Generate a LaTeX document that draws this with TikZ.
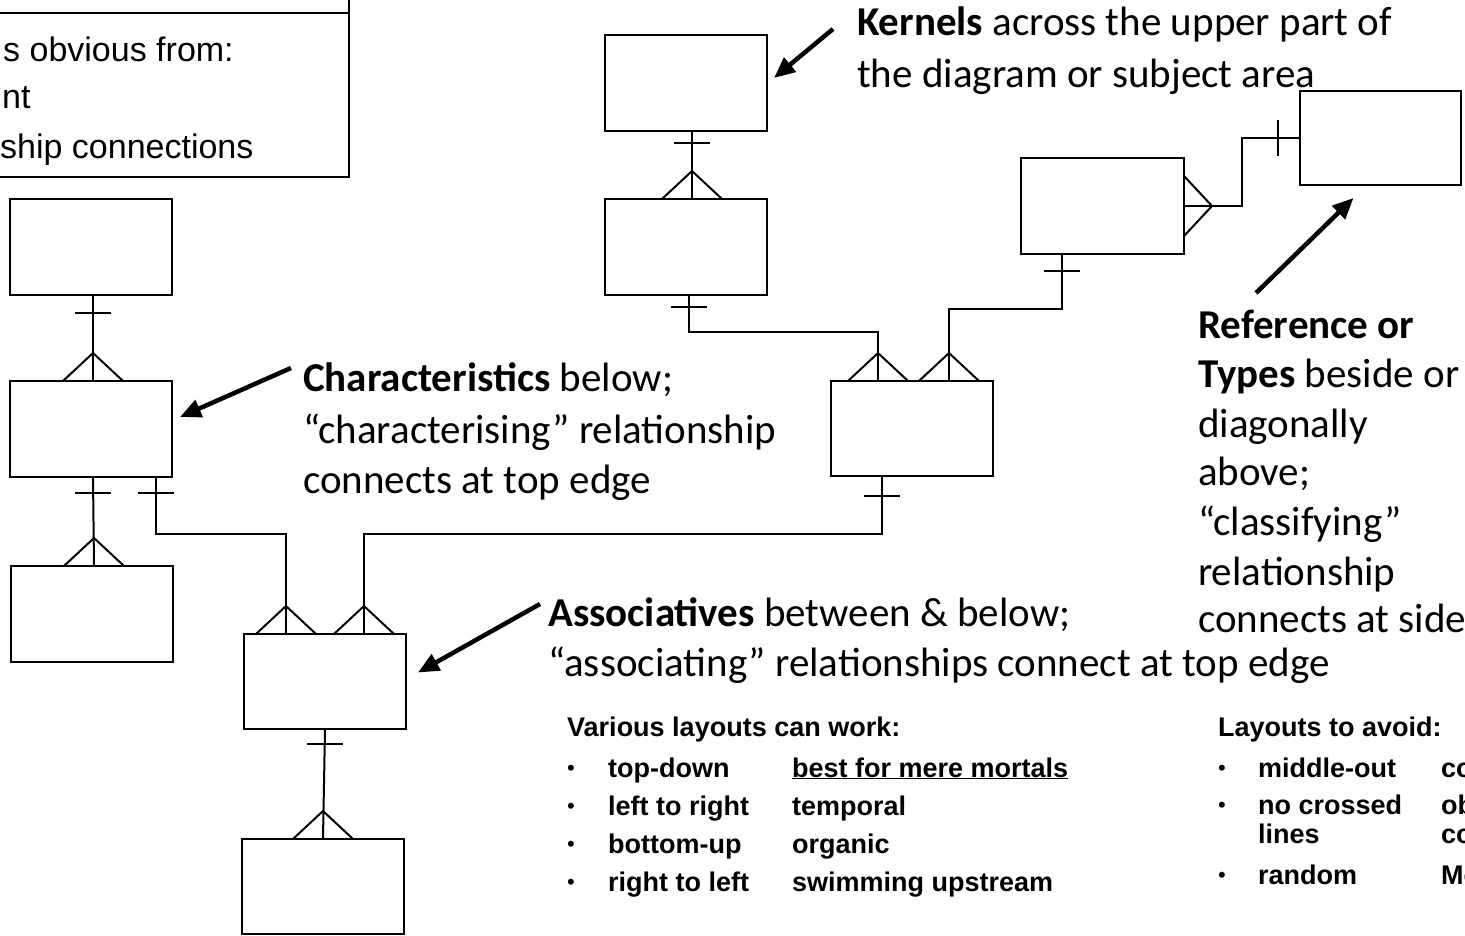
\documentclass[tikz,border=0pt]{standalone}
\usepackage{fontspec}
\setmainfont{Carlito}
\newfontfamily\arialfont{Liberation Sans}
\usetikzlibrary{arrows.meta,calc}

\begin{document}
\begin{tikzpicture}[x=1pt,y=-1pt,
  entity/.style={draw, line width=2pt, minimum width=162pt, minimum height=96pt, inner sep=0pt, outer sep=0pt},
  conn/.style={line width=2pt},
  pointer/.style={line width=4.5pt, -{Triangle[length=21pt,width=18pt]}},
  callout/.style={anchor=base west, inner sep=0pt, font=\fontsize{41}{49}\selectfont},
  notetext/.style={anchor=base west, inner sep=0pt, font=\arialfont\fontsize{34}{40}\selectfont},
  listtext/.style={anchor=base west, inner sep=0pt, font=\arialfont\bfseries\fontsize{27}{31}\selectfont},
  dot/.style={anchor=base west, inner sep=0pt, font=\arialfont\fontsize{22}{26}\selectfont},
  crowfoot/.pic={\draw[conn] (-30,0) -- (0,-28) -- (30,0);},
  onebar/.pic={\draw[conn] (-18,0) -- (18,0);}
]
\useasboundingbox (0,0) rectangle (1465,935);
\clip (0,0) rectangle (1465,935);

% ---------- note box in the corner ----------
\node[entity, anchor=south east, minimum width=380pt, minimum height=220pt] (note) at (349,177) {};
\draw[conn] ($(note.north west)+(0,56)$) -- ($(note.north east)+(0,56)$);
\node[notetext] (note1) at (3,61) {s obvious from:};
\node[notetext] (note2) at (2,108) {nt};
\node[notetext] (note3) at (0,158) {ship connections};

% ---------- entities ----------
\node[entity] (A) at (91,246.5) {};
\node[entity] (B) at (91,429) {};
\node[entity] (C) at (92,614) {};
\node[entity, minimum height=95pt] (D) at (325,681.5) {};
\node[entity, minimum height=95pt] (F) at (323,886.5) {};
\node[entity] (K) at (686,83) {};
\node[entity] (L) at (686,247) {};
\node[entity, minimum height=95pt] (E) at (912,428.5) {};
\node[entity, minimum width=163pt] (G) at (1102.5,206) {};
\node[entity, minimum width=161pt, minimum height=94pt] (H) at (1380.5,138) {};

% ---------- relationships ----------
% characteristic chain on the left
\draw[conn] ([xshift=2]A.south) -- ([xshift=2]B.north);
\pic at ($(A.south)+(2,18)$) {onebar};
\pic at ([xshift=2]B.north) {crowfoot};

\draw[conn] ([xshift=2]B.south) -- ([xshift=2]C.north);
\pic at ($(B.south)+(2,16)$) {onebar};
\pic at ([xshift=2]C.north) {crowfoot};

% associative D
\draw[conn] ([xshift=65]B.south) -- ++(0,57) -| ([xshift=-39]D.north);
\pic at ($(B.south)+(65,16)$) {onebar};
\pic at ([xshift=-39]D.north) {crowfoot};

\draw[conn] ([xshift=-30]E.south) -- ++(0,58) -| ([xshift=39]D.north);
\pic at ($(E.south)+(-30,20)$) {onebar};
\pic at ([xshift=39]D.north) {crowfoot};

\draw[conn] (D.south) -- (F.north);
\pic at ($(D.south)+(0,15)$) {onebar};
\pic at (F.north) {crowfoot};

% kernel chain at the top
\draw[conn] ([xshift=6]K.south) -- ([xshift=6]L.north);
\pic at ($(K.south)+(6,12)$) {onebar};
\pic at ([xshift=6]L.north) {crowfoot};

% associative E
\draw[conn] ([xshift=3]L.south) -- ++(0,37) -| ([xshift=-34]E.north);
\pic at ($(L.south)+(3,12)$) {onebar};
\pic at ([xshift=-34]E.north) {crowfoot};

\draw[conn] ([xshift=37]E.north) -- ++(0,-72) -| ([xshift=-41]G.south);
\pic at ($(G.south)+(-41,17)$) {onebar};
\pic at ([xshift=37]E.north) {crowfoot};

% classifying relationship at the side
\draw[conn] (G.east) -- ++(58,0) |- (H.west);
\pic[rotate=-90] at (G.east) {crowfoot};
\pic[rotate=90] at ($(H.west)+(-22,0)$) {onebar};

% ---------- callouts ----------
\node[callout] (kern1) at (857,35) {\textbf{Kernels} across the upper part of};
\node[callout] (kern2) at (857,87) {the diagram or subject area};
\coordinate (kernTail) at (833,29);
\draw[pointer] (kernTail) -- ($(K.east)+(7,-5)$);

\node[callout] (char1) at (303,391) {\textbf{Characteristics} below;};
\node[callout] (char2) at (303,443) {“characterising” relationship};
\node[callout] (char3) at (303,493) {connects at top edge};
\coordinate (charTail) at (291,368);
\draw[pointer] (charTail) -- ($(B.east)+(8,-12)$);

\node[callout] (assoc1) at (548,626) {\textbf{Associatives} between \& below;};
\node[callout] (assoc2) at (548,676) {“associating” relationships connect at top edge};
\coordinate (assocTail) at (540,604);
\draw[pointer] (assocTail) -- ($(D.east)+(12,-9)$);

\node[callout] (ref1) at (1198,338) {\textbf{Reference or}};
\node[callout] (ref2) at (1198,387) {\textbf{Types} beside or};
\node[callout] (ref3) at (1198,437) {diagonally};
\node[callout] (ref4) at (1198,485) {above;};
\node[callout] (ref5) at (1198,535) {“classifying”};
\node[callout] (ref6) at (1198,585) {relationship};
\node[callout] (ref7) at (1198,632) {connects at side};
\coordinate (refTail) at (1256,293);
\draw[pointer] (refTail) -- ($(H.south)+(-27,13)$);

% ---------- layout lists ----------
\node[listtext] (workHead) at (567,736) {Various layouts can work:};
\node[dot] (w1b) at (567,775) {•};
\node[listtext] (w1a) at (608,777) {top-down};
\node[listtext] (w1c) at (792,777) {\underline{best for mere mortals}};
\node[dot] (w2b) at (567,813) {•};
\node[listtext] (w2a) at (608,815) {left to right};
\node[listtext] (w2c) at (792,815) {temporal};
\node[dot] (w3b) at (567,851) {•};
\node[listtext] (w3a) at (608,853) {bottom-up};
\node[listtext] (w3c) at (792,853) {organic};
\node[dot] (w4b) at (567,889) {•};
\node[listtext] (w4a) at (608,891) {right to left};
\node[listtext] (w4c) at (792,891) {swimming upstream};

\node[listtext] (avoidHead) at (1218,736) {Layouts to avoid:};
\node[dot] (v1b) at (1218,775) {•};
\node[listtext] (v1a) at (1258,777) {middle-out};
\node[listtext] (v1c) at (1441,777) {co};
\node[dot] (v2b) at (1218,812) {•};
\node[listtext] (v2a) at (1258,814) {no crossed};
\node[listtext] (v2c) at (1441,814) {ob};
\node[listtext] (v2d) at (1258,843) {lines};
\node[listtext] (v2e) at (1441,843) {co};
\node[dot] (v3b) at (1218,882) {•};
\node[listtext] (v3a) at (1258,884) {random};
\node[listtext] (v3c) at (1441,884) {Me};
\end{tikzpicture}
\end{document}
